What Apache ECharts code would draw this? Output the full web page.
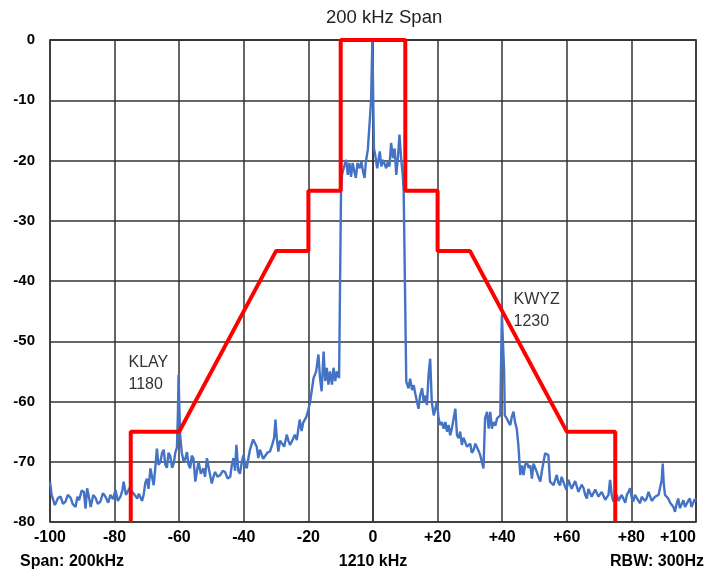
<!DOCTYPE html>
<html>
<head>
<meta charset="utf-8">
<script src="https://cdn.jsdelivr.net/npm/echarts@6/dist/echarts.min.js"></script>
<style>
html, body { margin: 0; padding: 0; background: #fff; }
#chart { width: 709px; height: 574px; }
</style>
</head>
<body>
<div id="chart"></div>
<script>
// mask corners (kHz, dB)
var maskData = [
    [-75, -80], [-75, -65], [-60, -65], [-30, -35], [-20, -35], [-20, -25],
    [-10, -25], [-10, 0], [10, 0], [10, -25], [20, -25], [20, -35],
    [30, -35], [60, -65], [75, -65], [75, -80]
];

// measured trace, lower sideband
var traceLow = [
    [-100, -73.3], [-99.5, -75.5], [-98.5, -77.2], [-97.5, -76.0], [-96.7, -75.8], [-96, -77], [-95.2, -76.6],
    [-94.5, -75.5], [-93.6, -76.0], [-93, -77], [-92.1, -77.5], [-91.5, -75.8], [-91.0, -76.4], [-90.2, -74.8],
    [-89.5, -75.0], [-89, -77.8], [-88.5, -74.4], [-87.9, -76], [-87.4, -77.5], [-86.6, -75.5], [-85.9, -76.0],
    [-85.2, -77], [-84.4, -76.6], [-83.6, -75.2], [-82.8, -75.8], [-82, -76.8], [-81.3, -75.5], [-80.5, -76.2],
    [-79.7, -74.7], [-79, -76.5], [-78.2, -75.8], [-77.6, -74.8], [-77.2, -73.3], [-76.5, -75.5], [-75.9, -75.8],
    [-75.2, -74.2], [-74.6, -75.0], [-73.8, -75.5], [-73.0, -76.1], [-72.5, -75.3], [-72.0, -75.0], [-71.5, -76.5],
    [-71.0, -75.5], [-70.5, -73.5], [-70.0, -72.8], [-69.5, -74.5], [-68.9, -71.1], [-68.4, -72.5], [-67.9, -73.9],
    [-67.4, -71.0], [-66.9, -67.8], [-66.4, -70.5], [-65.8, -70.0], [-65.3, -68.5], [-64.8, -68.0], [-64.3, -70.5],
    [-63.8, -71.0], [-63.3, -68.5], [-62.8, -69.0], [-62.2, -71.0], [-61.7, -70.3], [-61.2, -68.5], [-60.7, -67.6],
    [-60.4, -62], [-60.2, -55.6], [-60.0, -60], [-59.7, -65.6], [-59.2, -68.5], [-58.6, -70.0], [-58.1, -69.5],
    [-57.6, -68.4], [-57.1, -70.5], [-56.6, -71.1], [-56.1, -69], [-55.6, -69.4], [-55.0, -73.3], [-54.5, -71.5],
    [-54.0, -70.0], [-53.3, -72], [-52.5, -71.1], [-52, -72.5], [-51.4, -69.4], [-50.7, -71.5], [-49.9, -73.6],
    [-49.4, -72.5], [-48.9, -71.7], [-48.1, -72.5], [-47.3, -72.2], [-46.5, -71.5], [-45.8, -71.7], [-45, -72.8],
    [-44.2, -72.5], [-43.7, -70.5], [-43.2, -69.4], [-42.7, -71.5], [-42.3, -67.2], [-41.7, -71.5], [-41.2, -72.0],
    [-40.6, -70], [-40.1, -68.9], [-39.6, -70.5], [-39.1, -71.1], [-38.6, -69.5], [-38.1, -68.0], [-37.1, -66.3],
    [-36.5, -66.1], [-36.0, -67.5], [-35.5, -69.4], [-35.0, -68], [-34.5, -68.3], [-34, -69.5], [-33.4, -69.7],
    [-32.7, -68.5], [-31.9, -68.3], [-31.1, -67], [-30.6, -66], [-30.2, -63], [-29.8, -66], [-29.3, -68.3],
    [-28.8, -66.5], [-28.3, -66.4], [-27.5, -67.5], [-26.7, -65.5], [-26.2, -66.5], [-25.7, -67.2], [-25, -66.5],
    [-24.2, -65.5], [-23.6, -66.4], [-22.7, -63], [-22.1, -64.9], [-21.6, -63.5], [-21.1, -63.8], [-20.6, -62.5],
    [-20.1, -61.5], [-19.5, -60.2], [-18.4, -56.1], [-17.6, -55], [-16.9, -52.2], [-16.4, -56.1], [-15.9, -58.3],
    [-15.3, -51.7], [-14.8, -56.6], [-14.3, -54.4], [-13.8, -57.2], [-13.3, -55], [-12.7, -57.2], [-12.2, -54.4],
    [-11.7, -56.6], [-11.2, -55], [-10.5, -56.1]
];

// measured trace, carrier
var traceMid = [
    [-9.9, -25.1], [-9.6, -22.4], [-9.1, -21.3], [-8.3, -19.9], [-7.8, -22.4], [-7.3, -20.4], [-6.8, -22.7],
    [-6.3, -20.4], [-5.8, -21.8], [-5.3, -22.9], [-4.8, -20.4], [-4.1, -21.3], [-3.6, -20.2], [-3.1, -21.8],
    [-2.6, -22.9], [-2.2, -20.2], [-1.6, -18.2], [-1.0, -18], [-0.6, -10.2], [-0.2, 0], [0.1, 0], [0.3, -18],
    [0.7, -19.1], [1.3, -21.3], [2.1, -18.5], [2.6, -21], [3.1, -19.9], [3.6, -20.2], [4.1, -21.3], [4.6, -20.2],
    [5.1, -21], [5.6, -17.1], [6.2, -19.6], [6.7, -18], [7.2, -22.4], [7.7, -19.6], [8.2, -15.7], [8.7, -19.6],
    [9.2, -22.4], [9.5, -25.1]
];

// measured trace, upper sideband
var traceHigh = [
    [10.3, -56.7], [11.0, -57.8], [11.5, -56.2], [12.1, -58.1], [12.6, -57.3], [13.1, -58.7], [13.6, -59.0],
    [14.1, -61.2], [14.6, -59.0], [15.2, -57.8], [15.7, -60.1], [16.2, -59.0], [16.7, -60.6], [17.2, -55.6],
    [17.7, -52.9], [18.2, -60.1], [18.8, -62.3], [19.3, -61.2], [19.8, -60.1], [20.3, -62.8], [20.8, -63.9],
    [21.3, -63.4], [21.9, -64.5], [22.4, -63.4], [22.9, -65.0], [23.4, -63.9], [23.9, -65.6], [24.4, -64.5],
    [24.9, -64.5], [25.5, -61.2], [26.0, -65.6], [26.5, -66.1], [27.0, -65.0], [27.5, -67.2], [28.0, -66.0],
    [28.6, -66.1], [29.1, -67.5], [29.6, -67.8], [30.1, -67.0], [30.6, -68.5], [31.1, -68.1], [31.7, -67.0],
    [32.2, -67.2], [32.7, -68.2], [33.2, -68.9], [33.7, -70], [34.2, -71.1], [34.7, -62.8], [35.3, -61.7],
    [35.8, -64.5], [36.3, -61.7], [36.8, -64.5], [37.3, -63.4], [37.9, -64], [38.4, -62.8], [38.9, -63],
    [39.4, -62.3], [39.7, -52], [39.9, -45.7], [40.3, -46], [40.6, -55], [40.8, -62.3], [41.4, -62.8],
    [42.0, -63.5], [42.5, -63.9], [43.0, -62.5], [43.5, -61.7], [44.0, -63.5], [44.5, -64.5], [45.0, -67.2],
    [45.6, -72.2], [46.1, -70.6], [46.6, -72.2], [47.1, -70.5], [47.6, -70.0], [48.2, -71], [48.7, -70.6],
    [49.2, -72.8], [49.7, -70.3], [50.2, -71], [50.7, -71.7], [51.2, -72.5], [51.8, -73.3], [52.3, -71.5],
    [52.8, -70.0], [53.3, -68.6], [53.8, -68.6], [54.3, -68.9], [54.8, -73.3], [55.3, -73.0], [55.9, -73.9],
    [56.4, -73.0], [56.9, -72.2], [57.4, -73.5], [57.9, -73.9], [58.4, -72.5], [58.9, -72.8], [59.4, -74.0],
    [59.9, -74.7], [60.5, -73.0], [61.0, -73.3], [61.5, -74.5], [62.0, -74.4], [62.6, -73.2], [63.1, -73.3],
    [63.6, -75], [64.1, -74.7], [64.6, -73.8], [65.2, -74.4], [65.7, -75.5], [66.2, -76.1], [66.7, -74.5],
    [67.2, -74.7], [67.7, -75.8], [68.2, -75.8], [68.8, -74.6], [69.3, -74.4], [69.8, -75.8], [70.3, -76.1],
    [70.8, -75.0], [71.3, -75.2], [71.9, -76.3], [72.4, -76.1], [72.9, -75.5], [73.4, -73.0], [73.9, -75.5],
    [74.4, -76.6], [75.0, -76], [75.5, -75.5], [76.0, -76.5], [76.5, -76.6], [77.0, -75.5], [77.5, -76.1],
    [78.1, -76.8], [78.6, -75.5], [79.1, -75.0], [79.6, -74.4], [80.1, -76], [80.6, -76.6], [81.1, -75.5],
    [81.6, -75.5], [82.2, -76.5], [82.7, -76.9], [83.2, -75.8], [83.7, -75.5], [84.2, -76.5], [84.7, -76.1],
    [85.3, -75.0], [85.8, -75.2], [86.3, -76.5], [86.8, -76.6], [87.3, -75.8], [87.8, -76.1], [88.4, -75.5],
    [88.9, -75.5], [89.4, -73], [89.7, -70.3], [90.0, -73.5], [90.4, -75.5], [90.9, -75.5], [91.4, -76.1],
    [92.0, -76.8], [92.5, -76.6], [93.0, -77.5], [93.5, -78.3], [94.0, -77.0], [94.5, -76.1], [95.0, -77.7],
    [95.5, -77.5], [96.1, -76.4], [96.6, -77.5], [97.1, -77.2], [97.6, -76.5], [98.1, -76.1], [98.6, -77.5],
    [99.2, -77.2], [99.6, -76.2], [100, -76.6]
];

var stations = [
    { name: 'KLAY\n1180', at: [-75.7, -55.4] },
    { name: 'KWYZ\n1230', at: [43.5, -44.9] }
];

var traceData = traceLow.concat(traceMid, traceHigh);

var Chart = echarts.init(document.getElementById('chart'));
var gridColor = '#333';

var option = {
    animation: false,
    title: {
        text: '200 kHz Span',
        left: 321,
        top: 3,
        textStyle: { fontFamily: 'Liberation Sans', fontSize: 18.5, fontWeight: 'normal', color: '#222' }
    },
    grid: {
        left: 50, right: 13, top: 40, bottom: 52,
        containLabel: false,
        outerBoundsMode: 'none',
        show: true, borderColor: gridColor, borderWidth: 1.5
    },
    xAxis: {
        type: 'value',
        min: -100, max: 100, interval: 20,
        axisLine: { show: true, lineStyle: { color: gridColor, width: 1.5 } },
        axisTick: { show: false },
        splitLine: { show: true, lineStyle: { color: gridColor, width: 1.5 } },
        axisLabel: {
            margin: 8,
            color: '#000',
            fontFamily: 'Liberation Sans',
            fontSize: 16,
            fontWeight: 'bold',
            alignMaxLabel: 'right',
            formatter: function (v) { return v > 0 ? '+' + v : '' + v; }
        }
    },
    yAxis: {
        type: 'value',
        min: -80, max: 0, interval: 10,
        axisLine: { show: true, lineStyle: { color: gridColor, width: 1.5 } },
        axisTick: { show: false },
        splitLine: { show: true, lineStyle: { color: gridColor, width: 1.5 } },
        axisLabel: {
            margin: 15,
            color: '#000',
            fontFamily: 'Liberation Sans',
            fontSize: 15,
            fontWeight: 'bold'
        }
    },
    series: [
        {
            name: 'trace',
            type: 'line',
            data: traceData,
            showSymbol: false,
            lineStyle: { color: '#4472C4', width: 2.4 },
            z: 2
        },
        {
            name: 'mask',
            type: 'line',
            data: maskData,
            showSymbol: false,
            lineStyle: { color: '#FF0000', width: 4 },
            z: 3
        }
    ],
    graphic: []
};
Chart.setOption(option);

var graphics = [];
for (var i = 0; i < stations.length; i++) {
    var p = Chart.convertToPixel({ gridIndex: 0 }, stations[i].at);
    graphics.push({
        type: 'text',
        x: p[0], y: p[1],
        z: 10,
        style: {
            text: stations[i].name,
            fill: '#333',
            font: '16px "Liberation Sans"',
            lineHeight: 22,
            verticalAlign: 'middle'
        }
    });
}
var bottomTexts = [
    { text: 'Span: 200kHz', x: 20, align: 'left' },
    { text: '1210 kHz', x: 373, align: 'center' },
    { text: 'RBW: 300Hz', x: 704, align: 'right' }
];
for (var j = 0; j < bottomTexts.length; j++) {
    graphics.push({
        type: 'text',
        x: bottomTexts[j].x, y: 562,
        style: {
            text: bottomTexts[j].text,
            fill: '#000',
            font: 'bold 16px "Liberation Sans"',
            align: bottomTexts[j].align,
            verticalAlign: 'middle'
        }
    });
}
Chart.setOption({ graphic: graphics });
</script>
</body>
</html>
